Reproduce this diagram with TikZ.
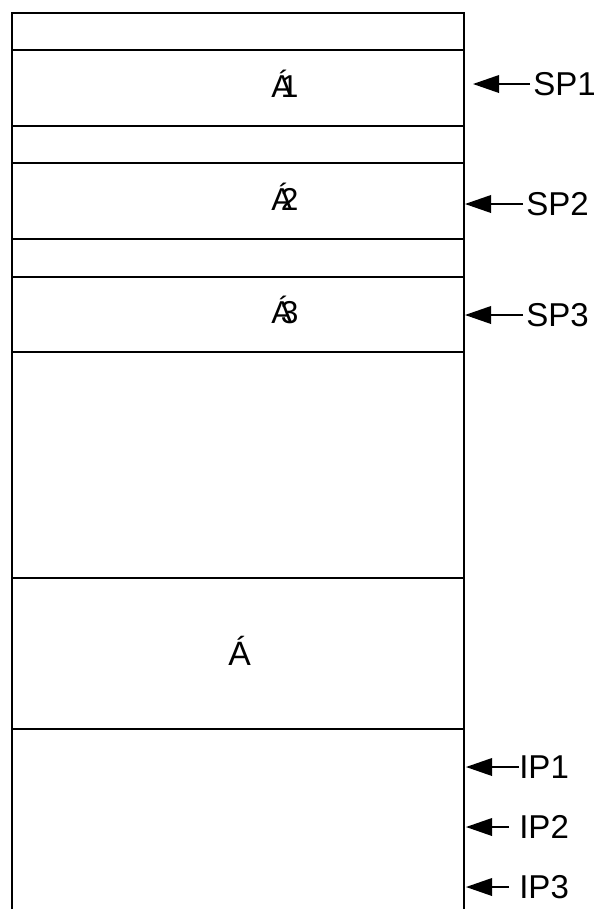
\documentclass[tikz,border=0pt]{standalone}
\usepackage{fontspec}
\setmainfont{Liberation Sans}
\usetikzlibrary{arrows.meta}

\tikzset{
	wall/.style={line width=1.4pt},
	ptr/.style={line width=1.1pt, -{Triangle[length=0.65cm, width=0.44cm]}},
	ptrtext/.style={anchor=west, inner sep=0pt, font=\fontsize{23.5}{27}\selectfont},
	slot/.style={anchor=base west, inner sep=0pt, font=\fontsize{22.5}{26}\selectfont},
}

\begin{document}
\begin{tikzpicture}[x=0.025cm, y=-0.025cm]

	\useasboundingbox (0,0) rectangle (601,910);

	% Stack body
	\draw[wall] (12,909) -- (12,13) -- (464,13) -- (464,909);
	\foreach \y in {50,126,163,239,277,352,578,729}
		\draw[wall] (12,\y) -- (464,\y);

	% Frames
	\draw (271,97) node[slot] (f1) {Á\kern-0.36em 1};
	\draw (271,210) node[slot] (f2) {Á\kern-0.36em 2};
	\draw (271,323) node[slot] (f3) {Á\kern-0.36em 3};
	\draw (228,665) node[slot, font=\fontsize{24}{28}\selectfont] (big) {Á};

	% Pointer tips
	\coordinate (t1) at (473,84);
	\coordinate (t2) at (465,204);
	\coordinate (t3) at (465,315);
	\coordinate (t4) at (466,767);
	\coordinate (t5) at (466,827);
	\coordinate (t6) at (466,887);

	% Pointer labels
	\draw (533,84) node[ptrtext] (sp1) {SP1};
	\draw (526,204) node[ptrtext] (sp2) {SP2};
	\draw (526,315) node[ptrtext] (sp3) {SP3};
	\draw (519,767) node[ptrtext] (ip1) {IP1};
	\draw (519,827) node[ptrtext] (ip2) {IP2};
	\draw (519,887) node[ptrtext] (ip3) {IP3};

	\draw[ptr, shorten <=2pt] (sp1.west) -- (t1);
	\draw[ptr, shorten <=2pt] (sp2.west) -- (t2);
	\draw[ptr, shorten <=2pt] (sp3.west) -- (t3);
	\draw[ptr] (ip1.west) -- (t4);
	\draw[ptr, shorten <=7pt] (ip2.west) -- (t5);
	\draw[ptr, shorten <=7pt] (ip3.west) -- (t6);

\end{tikzpicture}
\end{document}
